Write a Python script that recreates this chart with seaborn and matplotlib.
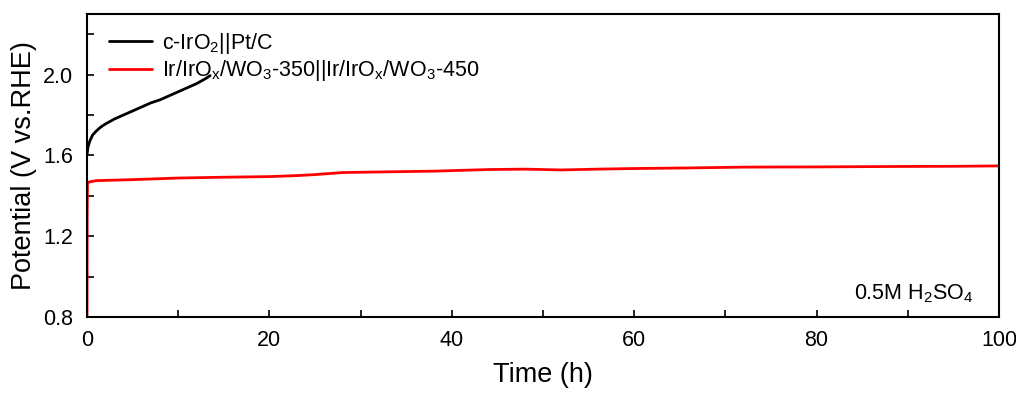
import numpy as np
import pandas as pd
import matplotlib
matplotlib.use("Agg")
import matplotlib.pyplot as plt
import seaborn as sns
from matplotlib.ticker import MultipleLocator

# Data
t_black = [0.0, 0.1, 0.3, 0.6, 1.0, 1.5, 2.0, 3.0, 4.0, 5.0, 6.0, 7.0, 8.0, 9.0, 10.0, 11.0, 12.0, 13.0, 13.5]
v_black = [1.60, 1.64, 1.67, 1.70, 1.72, 1.74, 1.755, 1.78, 1.80, 1.82, 1.84, 1.86, 1.875, 1.895, 1.915, 1.935, 1.955, 1.98, 1.995]

t_red = [0.0, 0.02, 0.05, 0.2, 1.0, 5.0, 10.0, 15.0, 20.0, 23.0, 25.0, 28.0, 32.0, 38.0, 44.0, 48.0, 52.0, 56.0, 60.0, 66.0, 72.0, 80.0, 88.0, 95.0, 100.0]
v_red = [0.80, 1.30, 1.46, 1.468, 1.475, 1.48, 1.488, 1.492, 1.495, 1.50, 1.505, 1.515, 1.518, 1.522, 1.53, 1.532, 1.528, 1.532, 1.535, 1.538, 1.542, 1.543, 1.545, 1.546, 1.548]

labels = [r"c-IrO$_\mathregular{2}$||Pt/C",
          r"Ir/IrO$_\mathregular{x}$/WO$_\mathregular{3}$-350||Ir/IrO$_\mathregular{x}$/WO$_\mathregular{3}$-450"]
colors = ["black", "red"]

x_ticks = [0, 20, 40, 60, 80, 100]
y_ticks = [0.8, 1.2, 1.6, 2.0]

df = pd.concat([
    pd.DataFrame({"Time": t_black, "Potential": v_black, "Sample": labels[0]}),
    pd.DataFrame({"Time": t_red, "Potential": v_red, "Sample": labels[1]}),
])

sns.set_style("ticks")
plt.rcParams["font.family"] = ["Liberation Sans", "DejaVu Sans"]
plt.rcParams["mathtext.fontset"] = "custom"
plt.rcParams["mathtext.rm"] = "Liberation Sans"
plt.rcParams["text.color"] = "black"
plt.rcParams["axes.labelcolor"] = "black"
plt.rcParams["xtick.color"] = "black"
plt.rcParams["ytick.color"] = "black"

fig = plt.figure(figsize=(10.16, 3.96), dpi=100)
ax = fig.add_axes([87/1016, 1 - 317/396, (999-87)/1016, (317-14)/396])

sns.lineplot(data=df, x="Time", y="Potential", hue="Sample", palette=colors,
             sort=False, estimator=None, linewidth=2, ax=ax)

ax.set_xlim(0, 100)
ax.set_ylim(0.8, 2.3)
ax.set_xticks(x_ticks)
ax.set_yticks(y_ticks)
ax.xaxis.set_minor_locator(MultipleLocator(10))
ax.yaxis.set_minor_locator(MultipleLocator(0.2))
ax.set_yticklabels([f"{v:.1f}" for v in y_ticks])
ax.tick_params(axis="both", which="both", direction="in", labelsize=15.5, width=1.2,
               colors="black", labelcolor="black")
ax.tick_params(axis="x", which="major", pad=9)
ax.tick_params(axis="y", which="major", pad=10)
ax.tick_params(which="major", length=5)
ax.tick_params(which="minor", length=5)
for s in ax.spines.values():
    s.set_linewidth(1.5)
    s.set_color("black")

ax.set_xlabel("Time (h)", fontsize=19.5, labelpad=8, color="black")
ax.set_ylabel("Potential (V vs.RHE)", fontsize=19.5, labelpad=4, color="black")

leg = ax.legend(loc="upper left", bbox_to_anchor=(22/912, 0.945), frameon=False,
                fontsize=15.5, handlelength=2.0, handletextpad=0.45,
                borderaxespad=0, borderpad=0, labelspacing=0.12)
for line in leg.get_lines():
    line.set_linewidth(2)

ax.text(90.7, 0.914, r"0.5M H$_\mathregular{2}$SO$_\mathregular{4}$", fontsize=15.5,
        ha="center", va="center", color="black")

fig.savefig("out.png", dpi=100)
